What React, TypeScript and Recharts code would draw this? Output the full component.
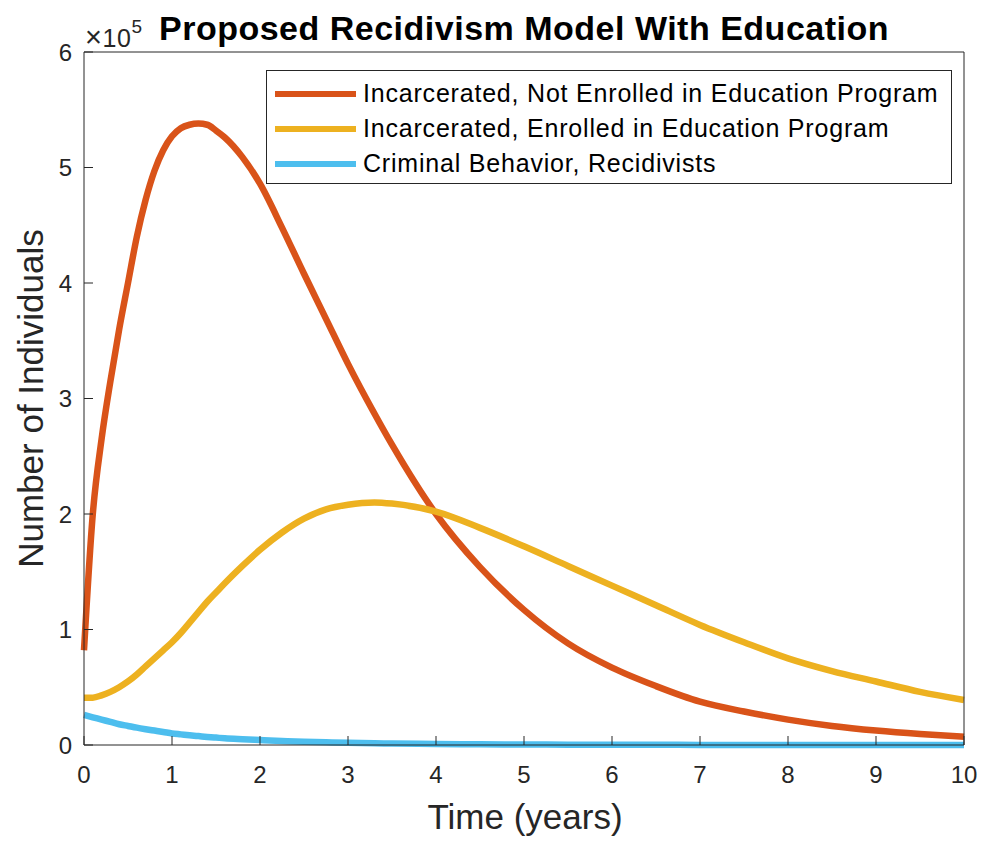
import React from "react";
import { LineChart, Line, XAxis, YAxis, Legend } from "recharts";

// time in years, values in units of 10^5 individuals
const times = [
  0, 0.1, 0.2, 0.3, 0.4, 0.5, 0.6, 0.7, 0.8, 0.9, 1.0, 1.1, 1.2, 1.3, 1.4, 1.5,
  1.6, 1.8, 2.0, 2.25, 2.5, 2.75, 3.0, 3.3, 3.5, 4.0, 4.5, 5.0, 5.5, 6.0, 6.5,
  7.0, 7.5, 8.0, 8.5, 9.0, 9.5, 10,
];
const notEnrolled = [
  0.82, 2.0, 2.65, 3.15, 3.6, 4.0, 4.4, 4.72, 4.97, 5.15, 5.27, 5.34, 5.37,
  5.38, 5.37, 5.32, 5.26, 5.09, 4.86, 4.48, 4.08, 3.69, 3.3, 2.87, 2.6, 2.0,
  1.54, 1.17, 0.88, 0.67, 0.51, 0.375, 0.29, 0.22, 0.165, 0.125, 0.095, 0.072,
];
const enrolled = [
  0.41, 0.41, 0.43, 0.46, 0.5, 0.55, 0.61, 0.68, 0.75, 0.82, 0.89, 0.97, 1.06,
  1.15, 1.24, 1.32, 1.4, 1.55, 1.69, 1.84, 1.96, 2.04, 2.08, 2.1, 2.09, 2.02,
  1.88, 1.72, 1.55, 1.38, 1.21, 1.04, 0.89, 0.75, 0.64, 0.55, 0.46, 0.39,
];
const recidivists = [
  0.26, 0.24, 0.22, 0.2, 0.18, 0.165, 0.15, 0.137, 0.125, 0.113, 0.1, 0.092,
  0.084, 0.077, 0.07, 0.064, 0.058, 0.05, 0.043, 0.035, 0.028, 0.023, 0.019,
  0.015, 0.013, 0.009, 0.006, 0.004, 0.003, 0.002, 0.0015, 0.001, 0.001, 0.001,
  0.001, 0.001, 0.001, 0.001,
];

const xTicks = [0, 1, 2, 3, 4, 5, 6, 7, 8, 9, 10];
const yTicks = [0, 1, 2, 3, 4, 5, 6];

const series = [
  { key: "notEnrolled", name: "Incarcerated, Not Enrolled in Education Program", color: "#D95319" },
  { key: "enrolled", name: "Incarcerated, Enrolled in Education Program", color: "#EDB120" },
  { key: "recidivists", name: "Criminal Behavior, Recidivists", color: "#4DBEEE" },
];

const FONT = '"Liberation Sans", Arial, Helvetica, sans-serif';
const AXIS = "#262626";

const data = times.map((t, i) => ({
  t,
  notEnrolled: notEnrolled[i],
  enrolled: enrolled[i],
  recidivists: recidivists[i],
}));

function LegendBox() {
  return (
    <div
      style={{
        width: 686,
        height: 114,
        boxSizing: "border-box",
        border: `1px solid ${AXIS}`,
        background: "#fff",
        paddingTop: 5,
      }}
    >
      {series.map((s) => (
        <div
          key={s.key}
          style={{ height: 35, display: "flex", alignItems: "center" }}
        >
          <div
            style={{
              marginLeft: 8,
              width: 81,
              height: 6,
              background: s.color,
            }}
          />
          <span
            style={{
              marginLeft: 7,
              fontFamily: FONT,
              fontSize: 25,
              letterSpacing: 0.8,
              color: "#000",
              whiteSpace: "nowrap",
            }}
          >
            {s.name}
          </span>
        </div>
      ))}
    </div>
  );
}

export default function App() {
  const tickStyle = { fill: AXIS, fontSize: 24, fontFamily: FONT };
  return (
    <div
      style={{
        position: "absolute",
        left: 0,
        top: 0,
        width: 984,
        height: 842,
        background: "#fff",
      }}
    >
      <LineChart
        width={984}
        height={842}
        data={data}
        margin={{ top: 51, right: 19, bottom: 37, left: 0 }}
      >
        <XAxis
          xAxisId="b"
          dataKey="t"
          type="number"
          domain={[0, 10]}
          ticks={xTicks}
          interval={0}
          height={60}
          tickSize={-9}
          tickMargin={30}
          tick={tickStyle}
          axisLine={{ stroke: AXIS }}
          tickLine={{ stroke: AXIS }}
        />
        <XAxis
          xAxisId="top"
          orientation="top"
          dataKey="t"
          type="number"
          domain={[0, 10]}
          ticks={xTicks}
          interval={0}
          height={1}
          tickSize={-9}
          tick={false}
          axisLine={{ stroke: AXIS }}
          tickLine={{ stroke: AXIS }}
        />
        <YAxis
          yAxisId="l"
          type="number"
          domain={[0, 6]}
          ticks={yTicks}
          interval={0}
          width={84}
          tickSize={-9}
          tickMargin={21}
          tick={tickStyle}
          axisLine={{ stroke: AXIS }}
          tickLine={{ stroke: AXIS }}
        />
        <YAxis
          yAxisId="r"
          orientation="right"
          type="number"
          domain={[0, 6]}
          ticks={yTicks}
          interval={0}
          width={1}
          tickSize={-9}
          tick={false}
          axisLine={{ stroke: AXIS }}
          tickLine={{ stroke: AXIS }}
        />
        {series.map((s) => (
          <Line
            key={s.key}
            xAxisId="b"
            yAxisId="l"
            type="monotone"
            dataKey={s.key}
            name={s.name}
            stroke={s.color}
            strokeWidth={6.5}
            dot={false}
            isAnimationActive={false}
          />
        ))}
        <Legend
          layout="vertical"
          align="center"
          verticalAlign="middle"
          wrapperStyle={{ left: 266, top: 70, width: 686, height: 114 }}
          content={() => <LegendBox />}
        />
      </LineChart>
      <svg
        width={984}
        height={842}
        style={{ position: "absolute", left: 0, top: 0, pointerEvents: "none" }}
      >
        <text
          x={524}
          y={40}
          textAnchor="middle"
          fontFamily={FONT}
          fontWeight="bold"
          fontSize={34}
          letterSpacing={0.5}
          fill="#000"
        >
          Proposed Recidivism Model With Education
        </text>
        <text
          x={85}
          y={47}
          fontFamily={FONT}
          fontSize={25}
          letterSpacing={0.6}
          fill={AXIS}
        >
          <tspan fontSize={29}>×</tspan>10
          <tspan fontSize={19} dy={-14}>
            5
          </tspan>
        </text>
        <text
          x={525}
          y={829}
          textAnchor="middle"
          fontFamily={FONT}
          fontSize={35}
          fill={AXIS}
        >
          Time (years)
        </text>
        <text
          transform="translate(43, 398.5) rotate(-90)"
          textAnchor="middle"
          fontFamily={FONT}
          fontSize={35}
          fill={AXIS}
        >
          Number of Individuals
        </text>
      </svg>
    </div>
  );
}
